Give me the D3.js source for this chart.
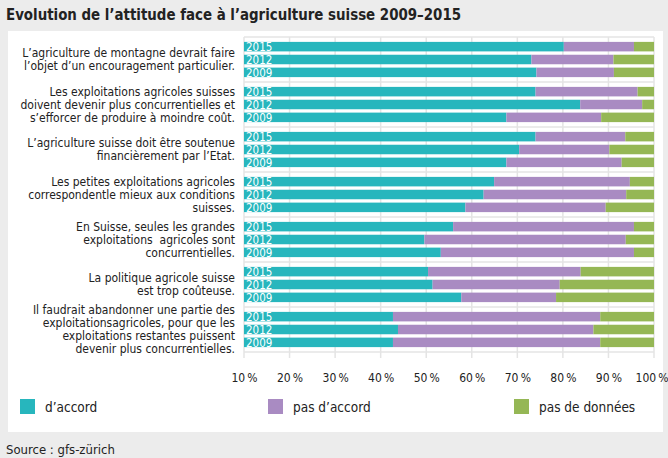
<!DOCTYPE html>
<html><head><meta charset="utf-8">
<script src="https://cdn.jsdelivr.net/npm/d3@7/dist/d3.min.js"></script>
<style>
body{margin:0;background:#ececec;}
svg{display:block;}
text{font-family:"DejaVu Sans Condensed","Liberation Sans Narrow","Roboto Condensed","Noto Sans",sans-serif;white-space:pre;}
</style>
</head><body>
<svg id="chart" width="668" height="458"></svg>
<script>
// ---- data ----
const categories = [
  ["L’agriculture de montagne devrait faire","l’objet d’un encouragement particulier."],
  ["Les exploitations agricoles suisses","doivent devenir plus concurrentielles et","s’efforcer de produire à moindre coût."],
  ["L’agriculture suisse doit être soutenue","financièrement par l’Etat."],
  ["Les petites exploitations agricoles","correspondentle mieux aux conditions","suisses."],
  ["En Suisse, seules les grandes","exploitations  agricoles sont","concurrentielles."],
  ["La politique agricole suisse","est trop coûteuse."],
  ["Il faudrait abandonner une partie des","exploitationsagricoles, pour que les","exploitations restantes puissent","devenir plus concurrentielles."]
];
const years = ["2015","2012","2009"];
// cumulative positions on the axis (axis units) where each segment ends
const accordEnd    = [[80.2,73.1,74.2],[74.0,83.8,67.6],[74.0,70.4,67.6],[64.9,62.6,58.6],[55.9,49.6,53.2],[50.4,51.4,57.7],[42.7,43.8,42.7]];
const pasAccordEnd = [[95.6,91.1,91.2],[96.4,97.4,88.4],[93.7,90.2,92.9],[94.7,93.9,89.4],[95.6,93.8,95.6],[83.9,79.3,78.5],[88.2,86.7,88.2]];
const axisStart = 10, axisEnd = 100;
const tickValues = [10,20,30,40,50,60,70,80,90,100];
const seriesNames = ["d’accord","pas d’accord","pas de données"];
const seriesColors = ["#27b6bd","#a98bc2","#95b755"];
const title = "Evolution de l’attitude face à l’agriculture suisse 2009–2015";
const source = "Source : gfs-zürich";

// ---- drawing ----
const svg = d3.select("#chart");
svg.append("rect").attr("x",0).attr("y",0).attr("width",668).attr("height",458).attr("fill","#ececec");
svg.append("rect").attr("x",8).attr("y",31).attr("width",655).attr("height",401).attr("fill","#ffffff");

svg.append("text").attr("x",6).attr("y",20).attr("font-size",16).attr("font-weight","bold").attr("fill","#222")
  .attr("textLength",455).attr("lengthAdjust","spacingAndGlyphs").text(title);
svg.append("text").attr("x",6).attr("y",454).attr("font-size",13).attr("fill","#222").text(source);

const plot = {left:244, right:654, top:37, bottom:352};
const x = d3.scaleLinear().domain([axisStart,axisEnd]).range([plot.left,plot.right]);
const yGroup = d3.scaleBand().domain(d3.range(categories.length)).range([plot.top,plot.bottom]).padding(0);
const yYear = d3.scaleBand().domain(years).range([0,yGroup.bandwidth()]).paddingInner(0.26).paddingOuter(0.38);

// grid
const grid = svg.append("g");
grid.selectAll("line.v").data(tickValues).join("line")
  .attr("x1",d=>x(d)).attr("x2",d=>x(d)).attr("y1",plot.top).attr("y2",plot.bottom+6)
  .attr("stroke","#e4e4e4").attr("stroke-width",1.5);
grid.selectAll("line.h").data(d3.range(categories.length+1)).join("line")
  .attr("x1",plot.left).attr("x2",plot.right)
  .attr("y1",d=>plot.top+d*yGroup.bandwidth()).attr("y2",d=>plot.top+d*yGroup.bandwidth())
  .attr("stroke","#e4e4e4").attr("stroke-width",1.5);

// axis labels
const xAxis = d3.axisBottom(x).tickValues(tickValues).tickFormat(d=>d+"\u202f%").tickSize(0).tickPadding(0);
const ax = svg.append("g").attr("transform",`translate(0,${plot.bottom+21})`).call(xAxis);
ax.select(".domain").remove();
ax.selectAll("text").attr("font-size",12).attr("fill","#222").attr("font-family",null);
ax.selectAll(".tick").filter(d=>d===100).select("text").attr("dx","-0.2em");

// bars
const rows = [];
categories.forEach((c,i)=>years.forEach((yr,j)=>{
  const a = accordEnd[i][j], p = pasAccordEnd[i][j];
  rows.push({i,yr,segs:[[axisStart,a],[a,p],[p,axisEnd]]});
}));
const rowG = svg.append("g").selectAll("g").data(rows).join("g")
  .attr("transform",d=>`translate(0,${yGroup(d.i)+yYear(d.yr)})`);
rowG.selectAll("rect").data(d=>d.segs.map((s,k)=>({s,k}))).join("rect")
  .attr("x",d=>x(d.s[0])).attr("width",d=>x(d.s[1])-x(d.s[0]))
  .attr("y",0).attr("height",yYear.bandwidth())
  .attr("fill",d=>seriesColors[d.k]);
rowG.append("text").attr("x",plot.left+2).attr("y",yYear.bandwidth()/2).attr("dy","0.36em")
  .attr("font-size",11.5).attr("fill","#fff").text(d=>d.yr);

// category labels
const lineH = 13;
svg.append("g").selectAll("text").data(categories).join("text")
  .attr("text-anchor","end").attr("font-size",12).attr("fill","#222")
  .attr("transform",(d,i)=>`translate(235,${yGroup(i)+yGroup.bandwidth()/2 - (d.length-1)*lineH/2})`)
  .each(function(d){
    d3.select(this).selectAll("tspan").data(d).join("tspan")
      .attr("x",0).attr("y",(t,k)=>k*lineH).attr("dy","0.35em").text(t=>t);
  });

// legend
const legX = [20,268,514];
const leg = svg.append("g").selectAll("g").data(seriesNames).join("g")
  .attr("transform",(d,i)=>`translate(${legX[i]},399)`);
leg.append("rect").attr("width",15).attr("height",15).attr("fill",(d,i)=>seriesColors[i]);
leg.append("text").attr("x",25).attr("y",8).attr("dy","0.35em").attr("font-size",13.5).attr("fill","#222").text(d=>d);
</script>
</body></html>
